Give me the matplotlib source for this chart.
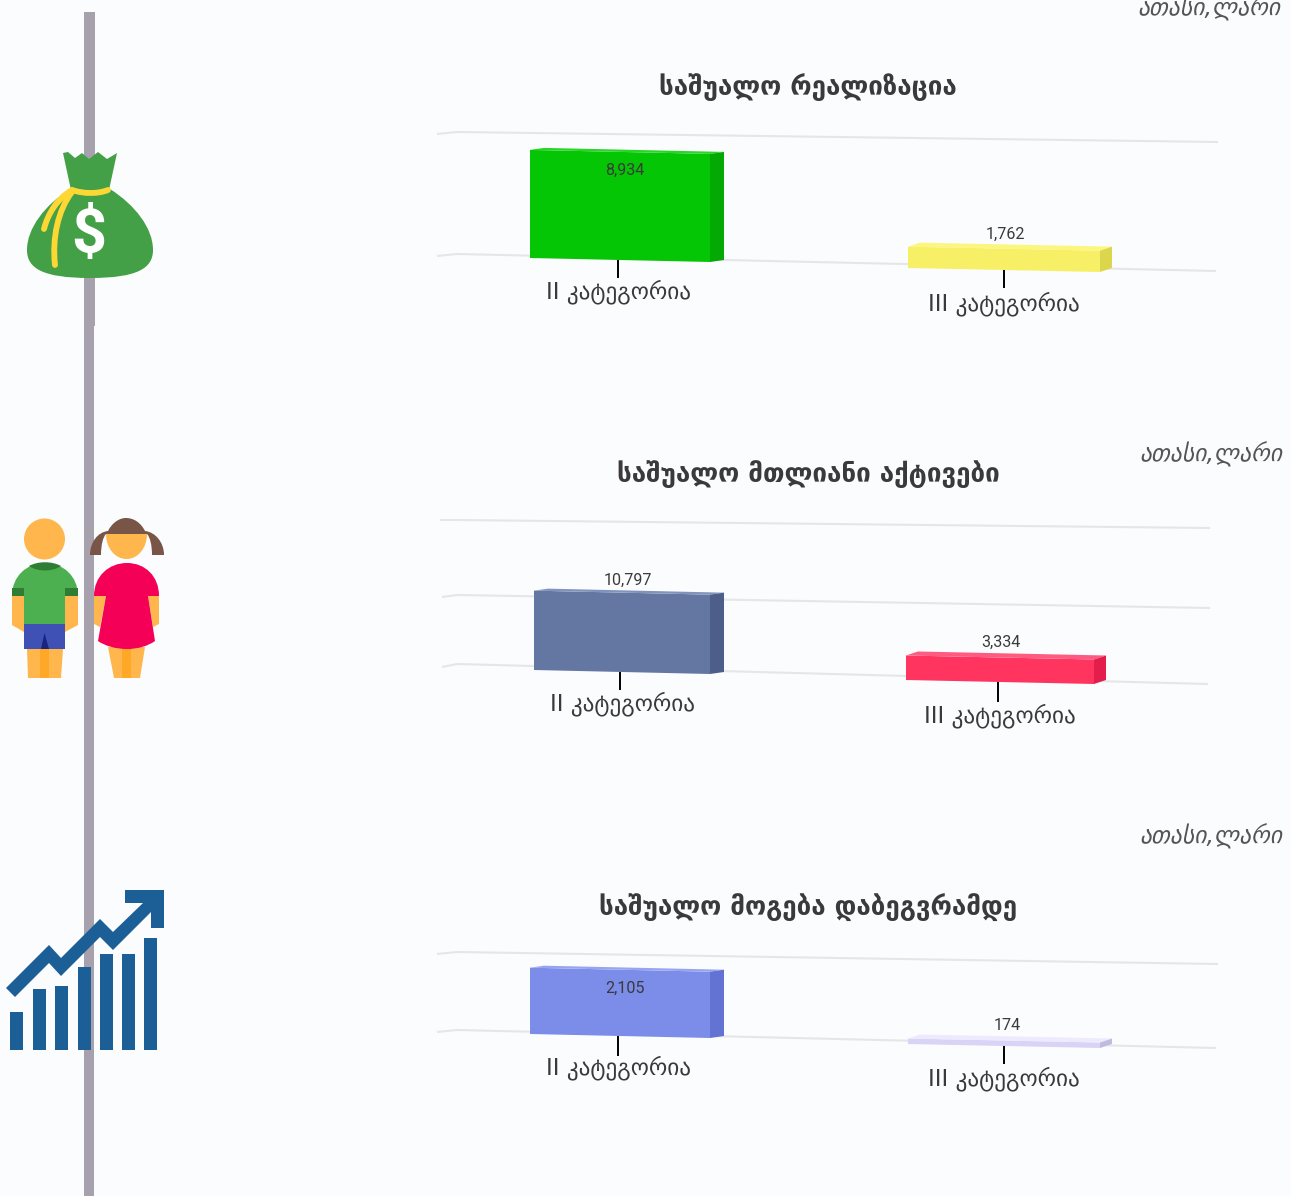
import matplotlib
matplotlib.use('Agg')
import matplotlib.pyplot as plt
from matplotlib.patches import Polygon, Circle, PathPatch, Rectangle
from matplotlib.path import Path

W, H = 1291, 1196
BG = '#fbfcfe'
TXT = '#3a3a3a'
GEO = 'DejaVu Sans'
NUM = 'Roboto'

# data
categories = ['II კატეგორია', 'III კატეგორია']
unit_label = 'ათასი,ლარი'
titles = ['საშუალო რეალიზაცია', 'საშუალო მთლიანი აქტივები', 'საშუალო მოგება დაბეგვრამდე']
realization = [8934, 1762]
assets = [10797, 3334]
profit = [2105, 174]
grid_realization = [0, 10000]
grid_assets = [0, 10000, 20000]
grid_profit = [0, 2500]

# one layout per panel, all in pixels from the top left of the picture
panels = [
    dict(values=realization, grid=grid_realization, scale=0.0121, base=258,
         grid_ends=[(437, 134, 457, 132, 1218, 142), (437, 256, 457, 254, 1216, 271)],
         left=[530, 908], right=[710, 1100], bottom=[258, 268], depth=[14, 12], rise=[2, 4],
         colors=[('#05c605', '#2ad42a', '#04a904'), ('#f7f066', '#fbf67c', '#dcd64c')],
         tick_x=[618, 1004], tick_y=[(260, 278), (270, 288)],
         label_pos=[(618, 292), (1004, 304)], value_pos=[(625, 170), (1005, 234)],
         title_y=87, unit_pos=(1280, 8)),
    dict(values=assets, grid=grid_assets, scale=0.00735, base=670,
         grid_ends=[(442, 667, 457, 664, 1208, 684), (442, 597, 457, 595, 1210, 608), (440, 520, 457, 520, 1210, 528)],
         left=[534, 906], right=[710, 1094], bottom=[670, 680], depth=[14, 12], rise=[2, 4],
         colors=[('#6476a2', '#8193bb', '#4d5e8a'), ('#ff3560', '#ff5b80', '#e31e4c')],
         tick_x=[620, 998], tick_y=[(672, 690), (682, 702)],
         label_pos=[(622, 704), (1000, 716)], value_pos=[(628, 580), (1001, 642)],
         title_y=474, unit_pos=(1282, 454)),
    dict(values=profit, grid=grid_profit, scale=0.0315, base=1034,
         grid_ends=[(437, 1032, 457, 1030, 1216, 1048), (437, 954, 457, 952, 1218, 964)],
         left=[530, 908], right=[710, 1100], bottom=[1034, 1044], depth=[14, 12], rise=[2, 4],
         colors=[('#7b8ce9', '#97a5f1', '#6273d3'), ('#d9d3f5', '#eee9fd', '#c0b9e0')],
         tick_x=[618, 1004], tick_y=[(1036, 1056), (1046, 1064)],
         label_pos=[(618, 1068), (1004, 1079)], value_pos=[(625, 988), (1007, 1026)],
         title_y=908, unit_pos=(1282, 836)),
]

fig = plt.figure(figsize=(W / 100, H / 100), dpi=100, facecolor=BG)


def draw_panel(p):
    # x stays in pixels, y is the value scale of this panel
    ax = fig.add_axes([0, 0, 1, 1], facecolor='none')
    ax.set_xlim(0, W)
    ax.set_ylim((p['base'] - H) / p['scale'], p['base'] / p['scale'])
    ax.axis('off')
    px = 1 / p['scale']

    for v, (x0, y0, x1, y1, x2, y2) in zip(p['grid'], p['grid_ends']):
        ys = [v - (y - (p['base'] - v * p['scale'])) * px for y in (y0, y1, y2)]
        ax.plot([x0, x1, x2], ys, color='#e6e6e8', lw=1.5, zorder=1, solid_capstyle='butt')

    for i, val in enumerate(p['values']):
        xl, xr = p['left'][i], p['right'][i]
        dx, rise = p['depth'][i], p['rise'][i]
        off = (p['base'] - p['bottom'][i]) * px
        drop = 4 * px
        r = rise * px
        front, top, side = p['colors'][i]
        ax.add_patch(Polygon([(xl, off), (xr, off - drop), (xr, off - drop + val), (xl, off + val)],
                             facecolor=front, edgecolor='none', zorder=3))
        ax.add_patch(Polygon([(xl, off + val), (xl + dx, off + val + r), (xr + dx, off - drop + val + r),
                              (xr, off - drop + val)], facecolor=top, edgecolor='none', zorder=3))
        ax.add_patch(Polygon([(xr, off - drop), (xr + dx, off - drop + r), (xr + dx, off - drop + val + r),
                              (xr, off - drop + val)], facecolor=side, edgecolor='none', zorder=3))


for p in panels:
    draw_panel(p)

# pixel axes for the text, the ticks and the icons
deco = fig.add_axes([0, 0, 1, 1], facecolor='none')
deco.set_xlim(0, W)
deco.set_ylim(H, 0)
deco.axis('off')

for p, title in zip(panels, titles):
    deco.text(808, p['title_y'], title, family=GEO, weight='bold', fontsize=18.7, color=TXT,
              ha='center', va='center')
    deco.text(p['unit_pos'][0], p['unit_pos'][1], unit_label, family=GEO, style='italic', fontsize=17,
              color='#555555', ha='right', va='center')
    for i, val in enumerate(p['values']):
        deco.plot([p['tick_x'][i]] * 2, p['tick_y'][i], color='black', lw=1.4, zorder=4, solid_capstyle='butt')
        deco.text(*p['label_pos'][i], categories[i], family=GEO, fontsize=16.7, color=TXT, ha='center', va='center')
        deco.text(*p['value_pos'][i], f'{val:,}', family=NUM, fontsize=11.6, color=TXT, ha='center', va='center',
                  zorder=5)

# vertical line behind the icons
deco.add_patch(Rectangle((84, 12), 11, 314, facecolor='#a7a1ae', edgecolor='none', zorder=1))
deco.add_patch(Rectangle((84, 326), 10, 870, facecolor='#a7a1ae', edgecolor='none', zorder=1))

# money bag
M, C, L = Path.MOVETO, Path.CURVE4, Path.LINETO
GREEN = '#43a047'
YELLOW = '#fdd835'
deco.add_patch(Polygon([(63, 153), (68, 152), (75, 158), (82, 153), (89, 159), (98, 152), (107, 159),
                        (117, 153), (109, 190), (71, 190)], facecolor=GREEN, edgecolor='none', zorder=6))
bag = Path([(70, 189), (45, 205), (27, 228), (27, 250), (27, 268), (42, 278), (90, 278), (138, 278), (153, 268),
            (153, 250), (153, 228), (135, 205), (110, 189), (70, 189)],
           [M, C, C, C, C, C, C, C, C, C, C, C, C, L])
deco.add_patch(PathPatch(bag, facecolor=GREEN, edgecolor='none', zorder=6))
for verts in ([(108, 190), (98, 194), (84, 194), (72, 190)],
              [(72, 190), (58, 198), (48, 213), (44, 229)],
              [(72, 192), (58, 210), (52, 238), (55, 265)]):
    deco.add_patch(PathPatch(Path(verts, [M, C, C, C]), facecolor='none', edgecolor=YELLOW, lw=4.2,
                             capstyle='round', zorder=7))
deco.text(89, 236, '$', family='Roboto', weight='bold', fontsize=44, color='white', ha='center', va='center',
          zorder=8)

# boy
SKIN = '#ffb74d'
SKIN2 = '#ffa726'
deco.add_patch(Circle((44.5, 539), 20.5, facecolor=SKIN, edgecolor='none', zorder=6))
deco.add_patch(Polygon([(12, 596), (24, 596), (24, 632), (12, 625)], facecolor=SKIN, edgecolor='none', zorder=6))
deco.add_patch(Polygon([(65, 596), (78, 596), (78, 625), (65, 632)], facecolor=SKIN, edgecolor='none', zorder=6))
deco.add_patch(Polygon([(27, 649), (63, 649), (61, 678), (28, 678)], facecolor=SKIN, edgecolor='none', zorder=6))
deco.add_patch(Rectangle((40, 649), 9, 29, facecolor=SKIN2, edgecolor='none', zorder=7))
shirt = Path([(12, 596), (12, 576), (27, 563), (45, 563), (63, 563), (78, 576), (78, 596), (65, 596), (65, 624),
              (24, 624), (24, 596), (12, 596)], [M, C, C, C, C, C, C, L, L, L, L, L])
deco.add_patch(PathPatch(shirt, facecolor='#4caf50', edgecolor='none', zorder=7))
deco.add_patch(Rectangle((12, 588), 12, 8, facecolor='#2e7d32', edgecolor='none', zorder=8))
deco.add_patch(Rectangle((65, 588), 13, 8, facecolor='#2e7d32', edgecolor='none', zorder=8))
neck = Path([(29, 566), (38, 561), (52, 561), (61, 566), (52, 572), (38, 572), (29, 566)], [M, C, C, C, C, C, C])
deco.add_patch(PathPatch(neck, facecolor='#2e7d32', edgecolor='none', zorder=8))
deco.add_patch(Rectangle((24, 624), 41, 25, facecolor='#3f51b5', edgecolor='none', zorder=7))
deco.add_patch(Polygon([(44.5, 633), (41, 649), (49, 649)], facecolor='#1a237e', edgecolor='none', zorder=8))

# girl
HAIR = '#795548'
hair = Path([(90, 555), (90, 542), (98, 532), (108, 531), (112, 523), (119, 518), (126, 518), (134, 518), (141, 523),
             (145, 531), (155, 532), (164, 542), (164, 555), (152, 555), (152, 545), (150, 537), (147, 534),
             (106, 534), (103, 537), (101, 545), (101, 555), (90, 555)],
            [M, C, C, C, C, C, C, C, C, C, C, C, C, L, C, C, C, L, C, C, C, L])
deco.add_patch(PathPatch(hair, facecolor=HAIR, edgecolor='none', zorder=6))
face = Path([(106, 534), (147, 534), (147, 548), (138, 559), (126.5, 559), (115, 559), (106, 548), (106, 534)],
            [M, L, C, C, C, C, C, L])
deco.add_patch(PathPatch(face, facecolor=SKIN, edgecolor='none', zorder=7))
deco.add_patch(Polygon([(94, 596), (106, 596), (100, 627), (94, 624)], facecolor=SKIN, edgecolor='none', zorder=6))
deco.add_patch(Polygon([(148, 596), (159, 596), (159, 624), (153, 627)], facecolor=SKIN, edgecolor='none', zorder=6))
deco.add_patch(Polygon([(108, 647), (145, 647), (140, 678), (114, 678)], facecolor=SKIN, edgecolor='none', zorder=6))
deco.add_patch(Rectangle((122, 647), 9, 31, facecolor=SKIN2, edgecolor='none', zorder=6))
dress = Path([(94, 596), (94, 576), (109, 563), (127, 563), (145, 563), (159, 576), (159, 596), (148, 596), (155, 641),
              (148, 646), (138, 649), (127, 649), (116, 649), (105, 646), (98, 641), (106, 596), (94, 596)],
             [M, C, C, C, C, C, C, L, L, C, C, C, C, C, C, L, L])
deco.add_patch(PathPatch(dress, facecolor='#f50057', edgecolor='none', zorder=7))

# growth chart
BLUE = '#1c5e96'
for x0, top in zip([10, 33, 55, 78, 100, 122, 144], [1012, 989, 986, 967, 954, 954, 938]):
    deco.add_patch(Rectangle((x0, top), 13, 1050 - top, facecolor=BLUE, edgecolor='none', zorder=6))
deco.add_patch(Polygon([(6, 988), (49, 945), (61, 958), (100, 919), (113, 932), (143, 903), (125, 903), (125, 890),
                        (164, 890), (164, 928), (151, 928), (151, 912), (113, 950), (100, 937), (61, 976), (49, 963),
                        (15, 997)], facecolor=BLUE, edgecolor='none', zorder=6))

fig.savefig('out.png', dpi=100, facecolor=BG)
